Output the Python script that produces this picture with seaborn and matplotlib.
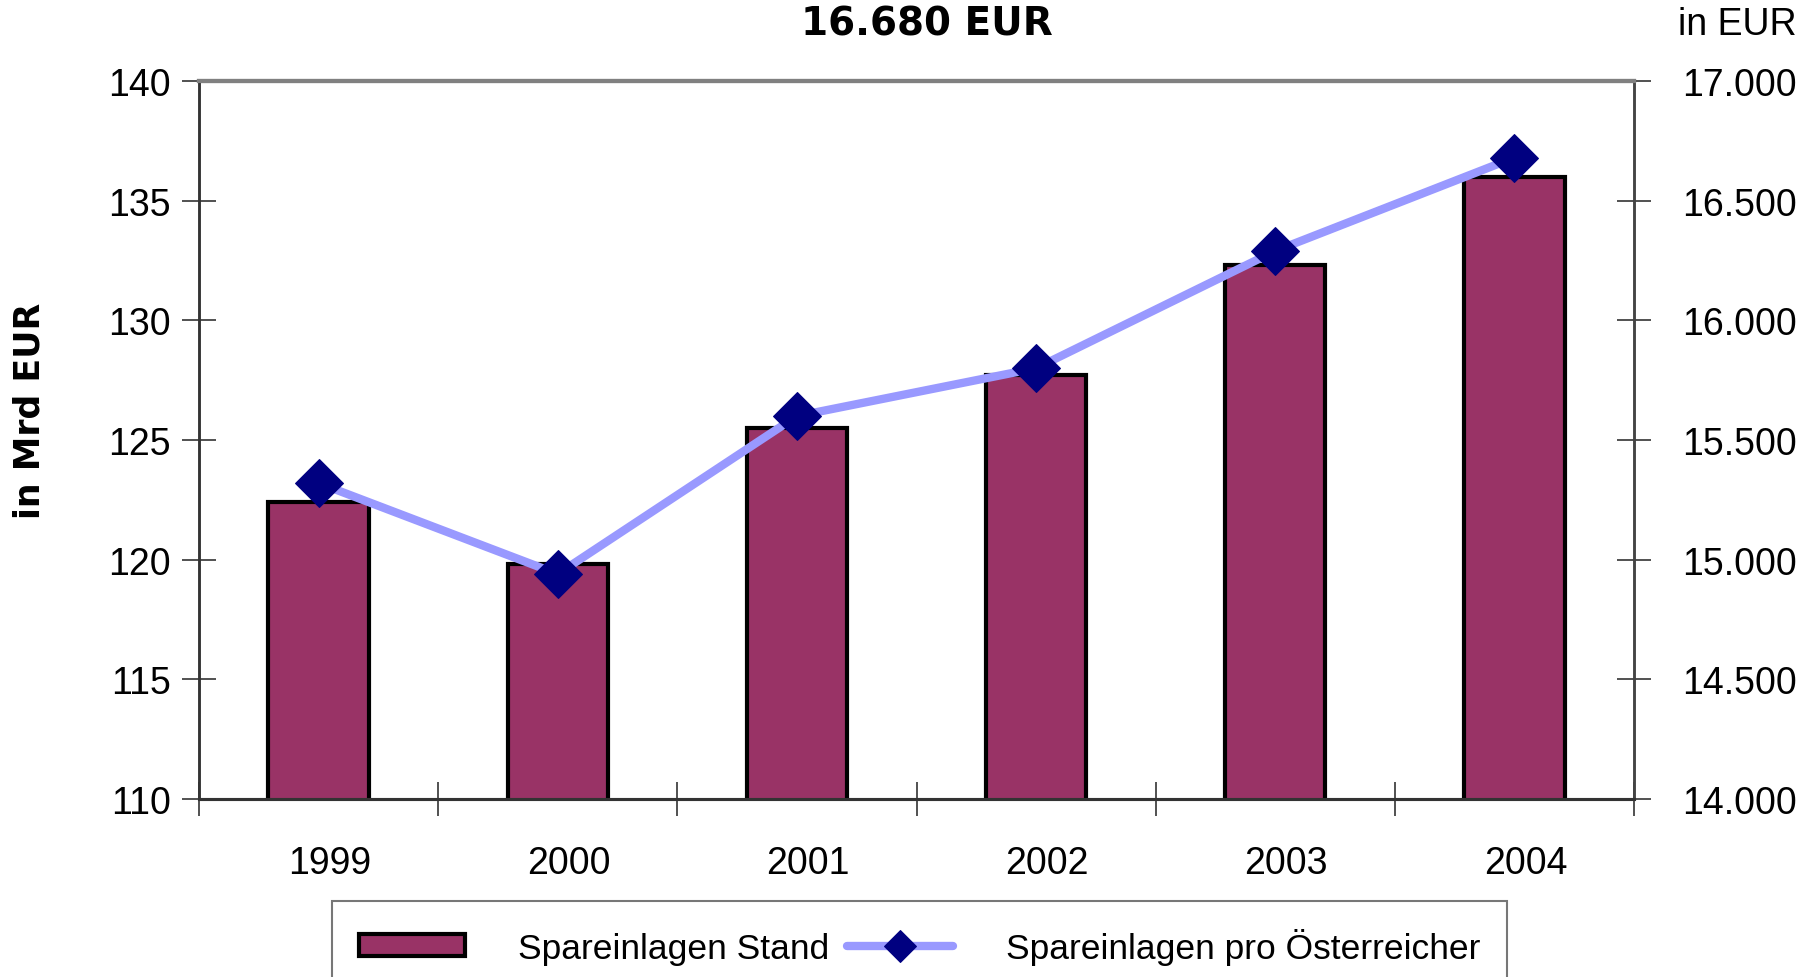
import numpy as np
import pandas as pd
import seaborn as sns
import matplotlib
matplotlib.use("Agg")
import matplotlib.pyplot as plt
from matplotlib.ticker import FixedLocator, FuncFormatter
from matplotlib.transforms import ScaledTranslation

years = ["1999", "2000", "2001", "2002", "2003", "2004"]
stand = [122.4, 119.8, 125.5, 127.7, 132.3, 136.0]          # Mrd EUR
pro_kopf = [15320, 14940, 15600, 15800, 16290, 16680]       # EUR
left_ticks = [110, 115, 120, 125, 130, 135, 140]
right_ticks = [14000, 14500, 15000, 15500, 16000, 16500, 17000]
title = "16.680 EUR"
ylabel_left = "in Mrd EUR"
ylabel_right = "in EUR"
label_bar = "Spareinlagen Stand"
label_line = "Spareinlagen pro Österreicher"

sns.set_theme(style="white")
plt.rcParams['font.family'] = ['Liberation Sans', 'DejaVu Sans']

fig = plt.figure(figsize=(18.14, 9.78), dpi=100)
ax = fig.add_axes([199/1814, 1-800/978, (1634-199)/1814, (800-82)/978])

df = pd.DataFrame({"Jahr": years, "Stand": stand, "Pro": pro_kopf})
sns.barplot(data=df, x="Jahr", y="Stand", color="#993366", saturation=1,
            edgecolor="black", linewidth=3, width=0.42, ax=ax, label=label_bar)
ax.set_ylim(left_ticks[0], left_ticks[-1])
ax.set_xlim(-0.5, len(years)-0.5)
ax.set_yticks(left_ticks)
ax.set_xlabel("")
ax.set_ylabel("")

ax2 = ax.twinx()
xpos = np.arange(len(years))
sns.lineplot(x=xpos, y=df["Pro"], ax=ax2, color="#9999FF", linewidth=6,
             marker="D", markersize=24, markerfacecolor="#000080",
             markeredgecolor="#000080", label=label_line, legend=False)
ax2.set_ylim(right_ticks[0], right_ticks[-1])
ax2.set_yticks(right_ticks)
ax2.yaxis.set_major_formatter(FuncFormatter(lambda v, p: f"{int(v):,}".replace(",", ".")))
ax2.set_ylabel("")
ax2.set_xlim(-0.5, len(years)-0.5)

fs = 27
ax.set_xticks(xpos)
ax.set_xticklabels(years)
ax.xaxis.set_minor_locator(FixedLocator(np.arange(len(years)+1) - 0.5))
ax.tick_params(axis="x", which="major", length=0, pad=33, labelsize=fs, colors="black")
ax.tick_params(axis="x", which="minor", direction="inout", length=24, width=1.2, color="#333333", bottom=True)
for lab in ax.get_xticklabels():
    lab.set_transform(lab.get_transform() + ScaledTranslation(0.11, 0, fig.dpi_scale_trans))
ax.tick_params(axis="y", which="major", direction="inout", length=24, width=1.2,
               color="#333333", labelsize=fs, pad=8, left=True, labelcolor="black")
ax2.tick_params(axis="y", which="major", direction="inout", length=24, width=1.2,
                color="#333333", labelsize=fs, pad=23, right=True, labelcolor="black")

for a in (ax, ax2):
    a.spines["top"].set_color("#808080")
    a.spines["top"].set_linewidth(3)
    a.spines["left"].set_color("#333333")
    a.spines["left"].set_linewidth(1.8)
    a.spines["right"].set_color("#444444")
    a.spines["right"].set_linewidth(1.8)
    a.spines["bottom"].set_color("#333333")
    a.spines["bottom"].set_linewidth(2.2)
    a.grid(False)
ax2.set_zorder(ax.get_zorder() + 1)
ax2.patch.set_visible(False)

fig.text(927/1814, 1-24/978, title, ha="center", va="center", fontsize=28,
         fontweight="bold", family=["DejaVu Sans"], color="black")
fig.text(1797/1814, 1-25/978, ylabel_right, ha="right", va="center", fontsize=fs, color="black")
fig.text(30/1814, 1-411/978, ylabel_left, ha="center", va="center", rotation=90,
         fontsize=25, fontweight="bold", family=["DejaVu Sans"], color="black")

h1, l1 = ax.get_legend_handles_labels()
h2, l2 = ax2.get_legend_handles_labels()
if ax.get_legend() is not None:
    ax.get_legend().remove()
if ax2.get_legend() is not None:
    ax2.get_legend().remove()
leg = fig.legend(h1 + h2, l1 + l2, loc="upper left", bbox_to_anchor=(332/1814, 1-902/978),
                 borderaxespad=0, ncol=2, fontsize=25.5, frameon=True, fancybox=False,
                 borderpad=0.75, handlelength=3.0, handleheight=0.6, handletextpad=1.5,
                 columnspacing=0.5)
leg.get_frame().set_edgecolor("#555555")
leg.get_frame().set_linewidth(1.5)
for t in leg.get_texts():
    t.set_color("black")
for hnd in leg.legend_handles:
    if hasattr(hnd, "set_markersize"):
        hnd.set_markersize(16)

fig.savefig("out.png", dpi=100)
